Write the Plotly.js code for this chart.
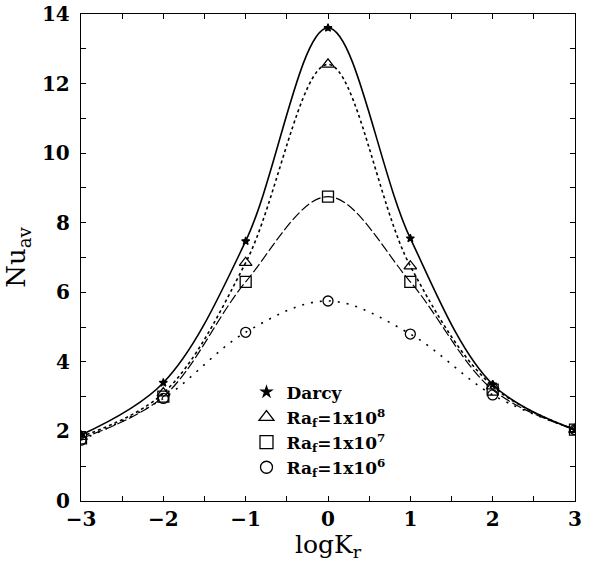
<!DOCTYPE html>
<html>
<head>
<meta charset="utf-8">
<script src="https://cdn.plot.ly/plotly-3.0.1.min.js"></script>
<style>html,body{margin:0;padding:0;background:#fff;}#chart{width:591px;height:562px;}</style>
</head>
<body>
<div id="chart"></div>
<script>
const logKr = [-3, -2, -1, 0, 1, 2, 3];
const nuDarcy = [1.9, 3.4, 7.47, 13.6, 7.55, 3.35, 2.05];
const nuRa1e8 = [1.85, 3.1, 6.85, 12.55, 6.75, 3.3, 2.05];
const nuRa1e7 = [1.8, 3.0, 6.3, 8.75, 6.3, 3.2, 2.05];
const nuRa1e6 = [1.75, 2.95, 4.85, 5.75, 4.8, 3.05, 2.05];
const seriesNames = ['Darcy', 'Ra<sub>f</sub>=1x10<sup>8</sup>', 'Ra<sub>f</sub>=1x10<sup>7</sup>', 'Ra<sub>f</sub>=1x10<sup>6</sup>'];
const xTicks = [-3, -2, -1, 0, 1, 2, 3];
const yTicks = [0, 2, 4, 6, 8, 10, 12, 14];

const serif = 'DejaVu Serif, Liberation Serif, serif';
const symbols = ['star', 'triangle-up-open', 'square-open', 'circle-open'];
const sizes = [6, 11, 11, 10];
function tr(y, i, dash, width) {
  return {
    x: logKr, y: y, name: seriesNames[i], type: 'scatter', mode: 'lines+markers', showlegend: false,
    line: {color: 'black', width: width, dash: dash, shape: 'spline', smoothing: 1},
    marker: {symbol: symbols[i], size: sizes[i], color: 'black', line: {color: 'black', width: 1.3}}
  };
}
function legendOnly(i) {
  return {
    x: [null], y: [null], name: seriesNames[i], type: 'scatter', mode: 'markers', showlegend: true,
    marker: {symbol: symbols[i], size: sizes[i] + 2, color: 'black', line: {color: 'black', width: 1.3}}
  };
}
const data = [
  tr(nuDarcy, 0, 'solid', 1.6),
  tr(nuRa1e8, 1, 'dot', 1.6),
  tr(nuRa1e7, 2, '10px,3px', 1.2),
  tr(nuRa1e6, 3, '2px,7px', 1.6),
  legendOnly(0), legendOnly(1), legendOnly(2), legendOnly(3)
];
const axisCommon = {
  showgrid: false, zeroline: false, showline: true, linecolor: 'black', linewidth: 1.2,
  mirror: 'ticks', ticks: 'inside', ticklen: 5, tickcolor: 'black',
  tickfont: {family: serif, size: 20, color: 'black', weight: 'bold'}
};
const layout = {
  width: 591, height: 562,
  margin: {l: 81, r: 16, t: 14, b: 61},
  paper_bgcolor: 'white', plot_bgcolor: 'white',
  showlegend: true,
  legend: {x: 0.335, y: 0.26, xanchor: 'left', yanchor: 'top', bgcolor: 'rgba(0,0,0,0)',
    font: {family: serif, size: 17, color: 'black', weight: 'bold'}, itemwidth: 30, tracegroupgap: 0},
  xaxis: Object.assign({}, axisCommon, {
    range: [-3, 3], tickvals: xTicks, ticktext: xTicks.map(v => v < 0 ? '\u2212' + Math.abs(v) : String(v)),
    minor: {dtick: 0.5, ticks: 'inside', ticklen: 5, tickcolor: 'black'},
    title: {text: 'logK<sub>r</sub>', font: {family: serif, size: 25, color: 'black'}, standoff: 4}
  }),
  yaxis: Object.assign({}, axisCommon, {
    range: [0, 14], tickvals: yTicks, ticklabelstandoff: 6,
    minor: {dtick: 1, ticks: 'inside', ticklen: 5, tickcolor: 'black'},
    title: {text: 'Nu<sub>av</sub>', font: {family: serif, size: 26, color: 'black'}, standoff: 8}
  })
};
Plotly.newPlot('chart', data, layout, {staticPlot: true});
</script>
</body>
</html>
